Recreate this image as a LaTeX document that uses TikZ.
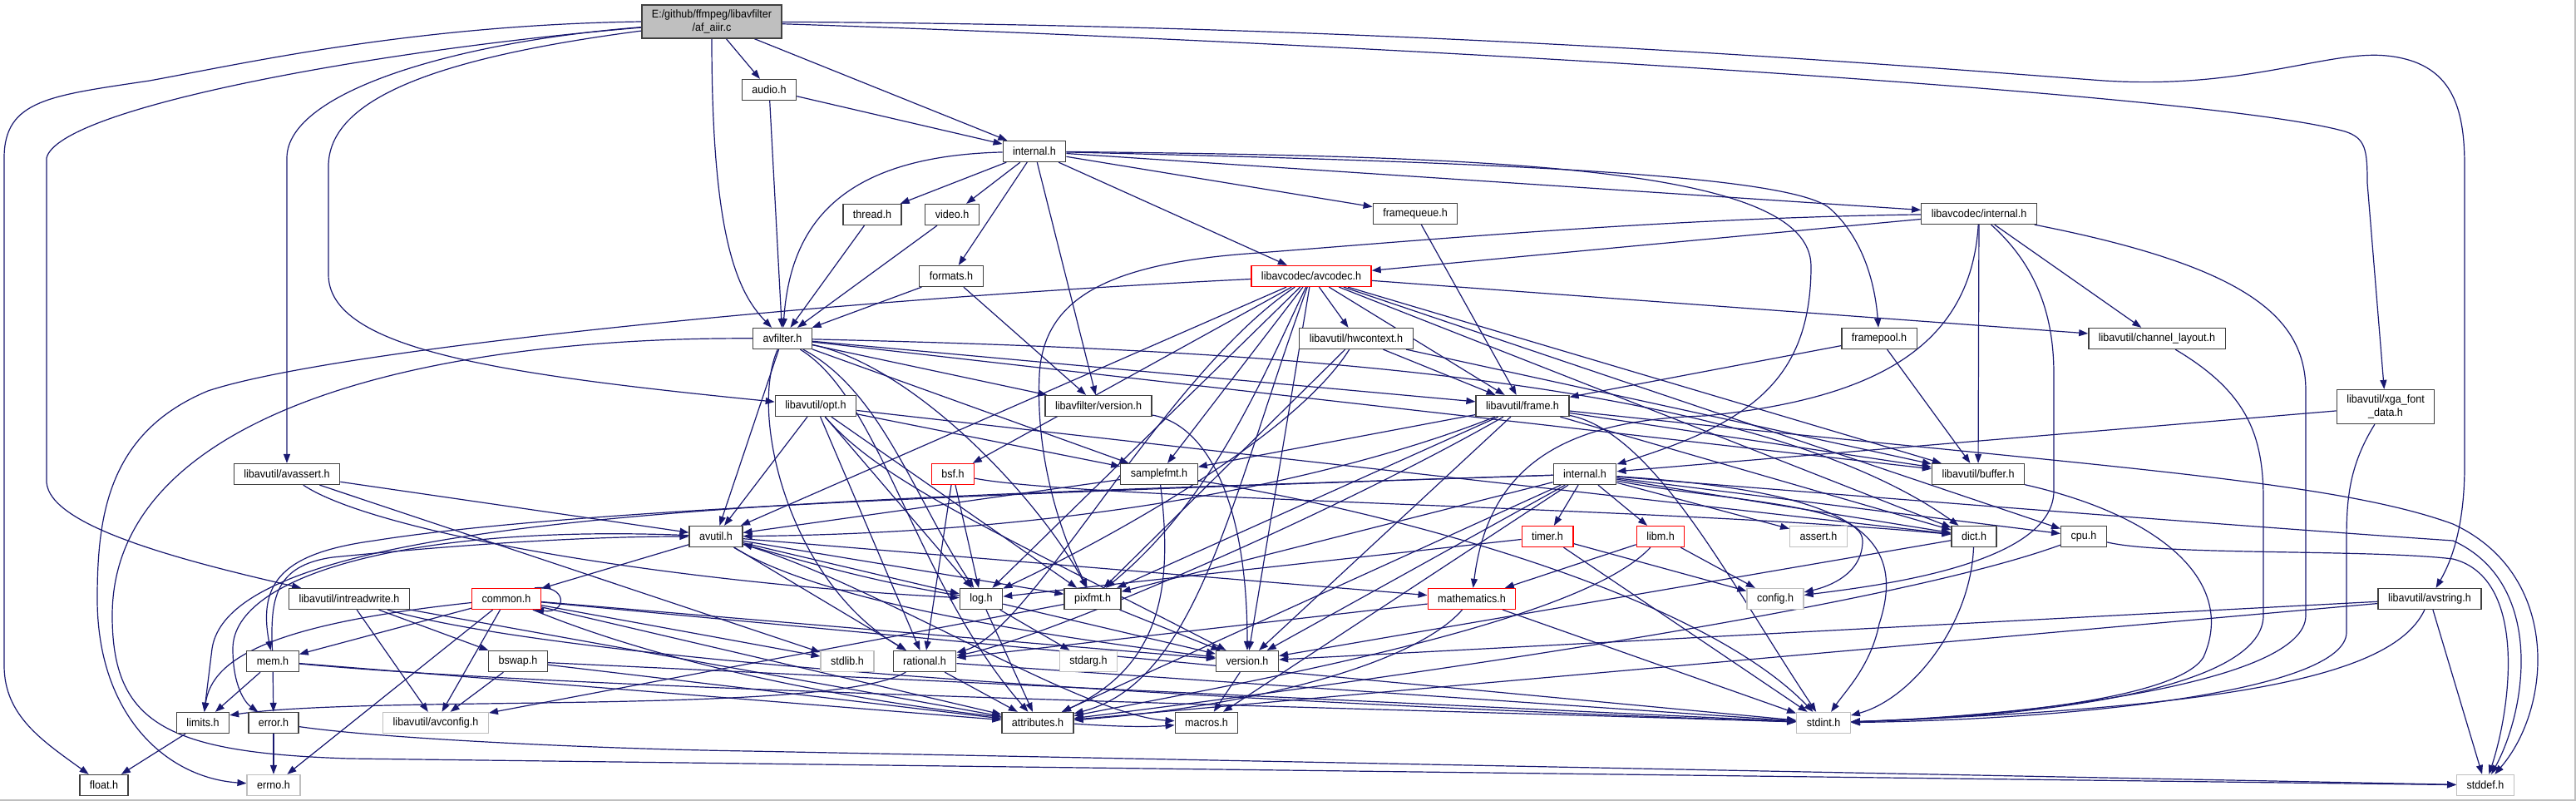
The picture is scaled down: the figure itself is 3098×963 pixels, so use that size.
\documentclass[tikz,border=0pt]{standalone}
\usepackage{fontspec}
\setmainfont{Liberation Sans}[FakeStretch=0.93]
\usetikzlibrary{arrows.meta,backgrounds}
\definecolor{edgeblue}{RGB}{25,25,112}
\definecolor{hdrgray}{RGB}{64,64,64}
\definecolor{sysgray}{RGB}{191,191,191}
\definecolor{rootfill}{RGB}{191,191,191}
\newcommand{\dotfont}{\fontsize{13.5}{16}\selectfont}

\begin{document}
\begin{tikzpicture}[x=1pt, y=-1pt,
        hdr/.style={rectangle,draw=hdrgray,fill=white,line width=1.3pt,
          minimum height=25pt,inner xsep=12pt,inner ysep=2pt,align=center,font=\dotfont},
        redhdr/.style={hdr,draw=red},
        syshdr/.style={hdr,draw=sysgray},
        roothdr/.style={hdr,fill=rootfill,minimum height=40pt},
        dep/.style={draw=edgeblue,line width=1.2pt,-{Triangle[length=11pt,width=8pt]}}]
        \useasboundingbox (0,0) rectangle (3098,963);
        \draw[sysgray,line width=1.5pt] (0,962) -- (3097,962) -- (3097,0);
        \node[roothdr] (root) at (856,26) {E:/github/ffmpeg/libavfilter\\/af\_aiir.c};
        \node[hdr] (audio) at (925,108) {audio.h};
        \node[hdr] (internal) at (1244,182) {internal.h};
        \node[hdr] (thread) at (1049,258) {thread.h};
        \node[hdr] (video) at (1145,258) {video.h};
        \node[hdr] (formats) at (1144,332) {formats.h};
        \node[hdr] (avfilter) at (941,407) {avfilter.h};
        \node[redhdr] (avcodec) at (1577,332) {libavcodec/avcodec.h};
        \node[hdr] (framequeue) at (1702,257) {framequeue.h};
        \node[hdr] (lavcint) at (2380,257) {libavcodec/internal.h};
        \node[hdr] (hwcontext) at (1631,407) {libavutil/hwcontext.h};
        \node[hdr] (framepool) at (2260,407) {framepool.h};
        \node[hdr] (chlayout) at (2594,407) {libavutil/channel\_layout.h};
        \node[hdr,minimum height=41pt] (xga) at (2869,489) {libavutil/xga\_font\\\_data.h};
        \node[hdr] (opt) at (981,488) {libavutil/opt.h};
        \node[hdr] (lavfiver) at (1321,488) {libavfilter/version.h};
        \node[hdr] (frame) at (1831,488) {libavutil/frame.h};
        \node[hdr] (avassert) at (345,570) {libavutil/avassert.h};
        \node[redhdr] (bsf) at (1146,570) {bsf.h};
        \node[hdr] (samplefmt) at (1394,570) {samplefmt.h};
        \node[hdr] (lavuint) at (1906,570) {internal.h};
        \node[hdr] (buffer) at (2379,570) {libavutil/buffer.h};
        \node[hdr] (avutil) at (861,645) {avutil.h};
        \node[redhdr] (timer) at (1861,645) {timer.h};
        \node[redhdr] (libm) at (1997,645) {libm.h};
        \node[syshdr] (assert) at (2187,645) {assert.h};
        \node[hdr] (dict) at (2374,645) {dict.h};
        \node[hdr] (cpu) at (2506,645) {cpu.h};
        \node[hdr] (intreadwrite) at (420,720) {libavutil/intreadwrite.h};
        \node[redhdr] (common) at (609,720) {common.h};
        \node[hdr] (log) at (1180,720) {log.h};
        \node[hdr] (pixfmt) at (1314,720) {pixfmt.h};
        \node[redhdr] (math) at (1770,720) {mathematics.h};
        \node[syshdr] (config) at (2135,720) {config.h};
        \node[hdr] (avstring) at (2922,720) {libavutil/avstring.h};
        \node[hdr] (mem) at (328,795) {mem.h};
        \node[hdr] (bswap) at (623,795) {bswap.h};
        \node[syshdr] (stdlib) at (1019,795) {stdlib.h};
        \node[hdr] (rational) at (1112,795) {rational.h};
        \node[syshdr] (stdarg) at (1309,795) {stdarg.h};
        \node[hdr] (version) at (1500,795) {version.h};
        \node[hdr] (limits) at (244,869) {limits.h};
        \node[hdr] (error) at (329,869) {error.h};
        \node[syshdr] (avconfig) at (524,869) {libavutil/avconfig.h};
        \node[hdr] (attributes) at (1248,869) {attributes.h};
        \node[hdr] (macros) at (1451,869) {macros.h};
        \node[syshdr] (stdint) at (2193,869) {stdint.h};
        \node[hdr] (float) at (125,944) {float.h};
        \node[syshdr] (errno) at (329,944) {errno.h};
        \node[syshdr] (stddef) at (2989,944) {stddef.h};
        \begin{scope}[on background layer]
        \draw[dep] (root) -- (audio);
        \draw[dep] (root) -- (internal);
        \draw[dep] (root.south) .. controls (856,280) and (885,350) .. (avfilter);
        \draw[dep] (root.west) .. controls (500,30) and (300,75) .. (180,97) .. controls (60,115) and (5,120) .. (5,190) -- (5,800) .. controls (5,860) and (50,890) .. (float);
        \draw[dep] (root) .. controls (450,60) and (70,130) .. (56,190) -- (56,580) .. controls (60,630) and (200,670) .. (intreadwrite);
        \draw[dep] (root) .. controls (550,50) and (345,110) .. (345,190) -- (avassert);
        \draw[dep] (root) .. controls (520,70) and (395,120) .. (395,200) -- (395,330) .. controls (395,420) and (600,450) .. (opt);
        \draw[dep] (root) .. controls (1600,50) and (2650,110) .. (2820,158) .. controls (2845,166) and (2847,180) .. (2847,220) -- (xga);
        \draw[dep] (root) .. controls (1700,30) and (2300,80) .. (2530,97) .. controls (2700,108) and (2800,60) .. (2870,67) .. controls (2950,75) and (2964,130) .. (2964,200) -- (2964,560) .. controls (2964,640) and (2945,680) .. (avstring);
        \draw[dep] (audio) -- (internal);
        \draw[dep] (audio) -- (avfilter);
        \draw[dep] (internal) -- (thread);
        \draw[dep] (internal) -- (video);
        \draw[dep] (internal) -- (formats);
        \draw[dep] (internal) .. controls (1000,188) and (950,280) .. (avfilter);
        \draw[dep] (internal) -- (lavfiver);
        \draw[dep] (internal) -- (avcodec);
        \draw[dep] (internal) -- (framequeue);
        \draw[dep] (internal) -- (lavcint);
        \draw[dep] (internal) .. controls (1800,195) and (2150,210) .. (2200,250) .. controls (2240,285) and (2255,340) .. (framepool);
        \draw[dep] (internal) .. controls (1800,188) and (2178,200) .. (2178,320) .. controls (2178,460) and (2100,510) .. (lavuint);
        \draw[dep] (thread) -- (avfilter);
        \draw[dep] (video) -- (avfilter);
        \draw[dep] (formats) -- (avfilter);
        \draw[dep] (formats) -- (lavfiver);
        \draw[dep] (avfilter) -- (lavfiver);
        \draw[dep] (avfilter) -- (avutil);
        \draw[dep] (avfilter) .. controls (1060,480) and (1100,700) .. (attributes);
        \draw[dep] (avfilter) -- (buffer);
        \draw[dep] (avfilter) .. controls (1500,420) and (2100,450) .. (dict);
        \draw[dep] (avfilter) -- (frame);
        \draw[dep] (avfilter) .. controls (1060,470) and (1100,600) .. (log);
        \draw[dep] (avfilter) -- (samplefmt);
        \draw[dep] (avfilter) .. controls (1100,440) and (1250,600) .. (pixfmt);
        \draw[dep] (avfilter) .. controls (900,500) and (950,700) .. (rational);
        \draw[dep] (avfilter) .. controls (500,405) and (135,500) .. (135,740) .. controls (135,870) and (200,905) .. (420,912) -- (stddef);
        \draw[dep] (avcodec) .. controls (1000,360) and (400,420) .. (250,470) .. controls (130,520) and (117,620) .. (117,720) .. controls (117,860) and (200,935) .. (errno);
        \draw[dep] (avcodec) -- (samplefmt);
        \draw[dep] (avcodec) .. controls (1480,600) and (1440,820) .. (attributes);
        \draw[dep] (avcodec) -- (avutil);
        \draw[dep] (avcodec) -- (buffer);
        \draw[dep] (avcodec) -- (cpu);
        \draw[dep] (avcodec) -- (chlayout);
        \draw[dep] (avcodec) -- (dict);
        \draw[dep] (avcodec) -- (frame);
        \draw[dep] (avcodec) -- (hwcontext);
        \draw[dep] (avcodec) -- (log);
        \draw[dep] (avcodec) .. controls (1520,450) and (1460,600) .. (pixfmt);
        \draw[dep] (avcodec) .. controls (1400,450) and (1240,760) .. (rational);
        \draw[dep] (avcodec) -- (bsf);
        \draw[dep] (avcodec) -- (version);
        \draw[dep] (lavcint) -- (avcodec);
        \draw[dep] (lavcint) .. controls (2000,262) and (1700,290) .. (1500,305) .. controls (1330,318) and (1255,360) .. (1250,450) .. controls (1245,560) and (1280,650) .. (pixfmt);
        \draw[dep] (lavcint) -- (buffer);
        \draw[dep] (lavcint) .. controls (2450,320) and (2470,380) .. (2470,450) -- (2470,590) .. controls (2470,680) and (2250,705) .. (config);
        \draw[dep] (lavcint) -- (chlayout);
        \draw[dep] (lavcint) .. controls (2700,320) and (2773,380) .. (2773,470) -- (2773,740) .. controls (2773,820) and (2450,860) .. (stdint);
        \draw[dep] (lavcint) .. controls (2370,420) and (2250,480) .. (2050,500) .. controls (1880,505) and (1790,560) .. (math);
        \draw[dep] (hwcontext) -- (buffer);
        \draw[dep] (hwcontext) -- (frame);
        \draw[dep] (hwcontext) .. controls (1560,520) and (1350,640) .. (log);
        \draw[dep] (hwcontext) -- (pixfmt);
        \draw[dep] (framepool) -- (buffer);
        \draw[dep] (framepool) -- (frame);
        \draw[dep] (framequeue) -- (frame);
        \draw[dep] (chlayout) .. controls (2700,470) and (2722,520) .. (2722,600) -- (2722,740) .. controls (2722,820) and (2500,860) .. (stdint);
        \draw[dep] (xga) .. controls (2825,560) and (2822,600) .. (2822,650) -- (2822,760) .. controls (2822,830) and (2500,865) .. (stdint);
        \draw[dep] (xga) -- (lavuint);
        \draw[dep] (lavfiver) .. controls (1450,510) and (1500,600) .. (version);
        \draw[dep] (opt) -- (avutil);
        \draw[dep] (opt) -- (rational);
        \draw[dep] (opt) -- (dict);
        \draw[dep] (opt) -- (log);
        \draw[dep] (opt) -- (pixfmt);
        \draw[dep] (opt) -- (samplefmt);
        \draw[dep] (opt) .. controls (1060,580) and (1200,640) .. (version);
        \draw[dep] (frame) .. controls (1650,560) and (1350,640) .. (avutil);
        \draw[dep] (frame) -- (buffer);
        \draw[dep] (frame) -- (dict);
        \draw[dep] (frame) .. controls (1600,620) and (1250,770) .. (rational);
        \draw[dep] (frame) -- (samplefmt);
        \draw[dep] (frame) -- (pixfmt);
        \draw[dep] (frame) -- (version);
        \draw[dep] (frame) .. controls (1990,520) and (2080,700) .. (stdint);
        \draw[dep] (frame) .. controls (2500,560) and (2800,575) .. (2950,630) .. controls (3080,690) and (3070,850) .. (stddef);
        \draw[dep] (avassert) -- (avutil);
        \draw[dep] (avassert) .. controls (450,640) and (800,700) .. (log);
        \draw[dep] (avassert) -- (stdlib);
        \draw[dep] (bsf) .. controls (1300,600) and (2000,610) .. (dict);
        \draw[dep] (bsf) -- (log);
        \draw[dep] (bsf) -- (rational);
        \draw[dep] (samplefmt) -- (avutil);
        \draw[dep] (samplefmt) .. controls (1410,700) and (1400,800) .. (attributes);
        \draw[dep] (samplefmt) .. controls (1700,620) and (2050,720) .. (stdint);
        \draw[dep] (lavuint) .. controls (1000,600) and (280,610) .. (255,780) -- (limits);
        \draw[dep] (lavuint) .. controls (2200,590) and (2300,630) .. (2260,750) .. controls (2250,800) and (2220,830) .. (stdint);
        \draw[dep] (lavuint) .. controls (2400,610) and (2800,640) .. (2950,650) .. controls (3060,700) and (3040,850) .. (stddef);
        \draw[dep] (lavuint) -- (assert);
        \draw[dep] (lavuint) .. controls (2050,600) and (2240,605) .. (2240,650) .. controls (2240,690) and (2200,705) .. (config);
        \draw[dep] (lavuint) -- (attributes);
        \draw[dep] (lavuint) -- (timer);
        \draw[dep] (lavuint) -- (libm);
        \draw[dep] (lavuint) -- (cpu);
        \draw[dep] (lavuint) -- (dict);
        \draw[dep] (lavuint) -- (macros);
        \draw[dep] (lavuint) .. controls (1300,590) and (700,610) .. (450,650) .. controls (340,665) and (310,700) .. (mem);
        \draw[dep] (lavuint) -- (pixfmt);
        \draw[dep] (lavuint) -- (version);
        \draw[dep] (buffer) .. controls (2600,620) and (2690,700) .. (2650,790) .. controls (2620,840) and (2400,862) .. (stdint);
        \draw[dep] (avutil) -- (common);
        \draw[dep] (avutil) .. controls (500,630) and (280,690) .. (280,780) .. controls (280,825) and (295,845) .. (error);
        \draw[dep] (avutil) -- (rational);
        \draw[dep] (avutil) .. controls (1000,730) and (1300,770) .. (version);
        \draw[dep] (avutil) .. controls (1050,700) and (1300,860) .. (macros);
        \draw[dep] (avutil) -- (math);
        \draw[dep] (avutil) -- (log);
        \draw[dep] (avutil) -- (pixfmt);
        \draw[dep] (timer) -- (config);
        \draw[dep] (timer) -- (stdint);
        \draw[dep] (timer) -- (log);
        \draw[dep] (libm) -- (config);
        \draw[dep] (libm) -- (math);
        \draw[dep] (libm) .. controls (1900,750) and (1500,820) .. (attributes);
        \draw[dep] (dict) .. controls (2370,750) and (2300,840) .. (stdint);
        \draw[dep] (dict) -- (version);
        \draw[dep] (cpu) .. controls (2300,720) and (1800,800) .. (attributes);
        \draw[dep] (cpu) .. controls (2600,668) and (2850,660) .. (2950,672) .. controls (3040,695) and (3020,850) .. (stddef);
        \draw[dep] (intreadwrite) -- (avconfig);
        \draw[dep] (intreadwrite) -- (bswap);
        \draw[dep] (intreadwrite) -- (attributes);
        \draw[dep] (intreadwrite) .. controls (700,800) and (1500,845) .. (stdint);
        \draw[dep] (bswap) -- (avconfig);
        \draw[dep] (bswap) -- (attributes);
        \draw[dep] (bswap) -- (stdint);
        \draw[dep] (common) -- (errno);
        \draw[dep] (common) .. controls (330,750) and (255,790) .. (limits);
        \draw[dep] (common) -- (mem);
        \draw[dep] (common) -- (avconfig);
        \draw[dep] (common) -- (stdlib);
        \draw[dep] (common) -- (stdint);
        \draw[dep] (common) -- (attributes);
        \draw[dep] (common) .. controls (900,840) and (1300,880) .. (macros);
        \draw[dep] (common) -- (version);
        \draw[dep] ([xshift=-8pt]common.north east) .. controls +(40,-5) and +(40,5) .. ([xshift=-8pt]common.south east);
        \draw[dep] (log) -- (stdarg);
        \draw[dep] (log) .. controls (1050,700) and (950,670) .. (avutil);
        \draw[dep] (log) -- (attributes);
        \draw[dep] (log) -- (version);
        \draw[dep] (pixfmt) -- (avconfig);
        \draw[dep] (pixfmt) -- (version);
        \draw[dep] (math) -- (stdint);
        \draw[dep] (math) .. controls (1700,800) and (1500,850) .. (attributes);
        \draw[dep] (math) -- (rational);
        \draw[dep] (rational) -- (stdint);
        \draw[dep] (rational) .. controls (1000,860) and (450,835) .. ([yshift=-4pt]limits.north east);
        \draw[dep] (rational) -- (attributes);
        \draw[dep] (version) -- (macros);
        \draw[dep] (error) -- (errno);
        \draw[dep] (error) .. controls (450,887) and (700,900) .. (900,903) -- (stddef);
        \draw[dep] (limits) -- (float);
        \draw[dep] (mem) -- (limits);
        \draw[dep] (mem) -- (error);
        \draw[dep] (mem) .. controls (325,720) and (330,680) .. (400,670) .. controls (550,655) and (700,645) .. (avutil);
        \draw[dep] (mem) -- (attributes);
        \draw[dep] (mem) .. controls (700,830) and (1600,850) .. (stdint);
        \draw[dep] (avstring) -- (stddef);
        \draw[dep] (avstring) .. controls (2880,810) and (2700,850) .. (stdint);
        \draw[dep] (avstring) -- (attributes);
        \draw[dep] (avstring) -- (version);
        \end{scope}
      \end{tikzpicture}
\end{document}
